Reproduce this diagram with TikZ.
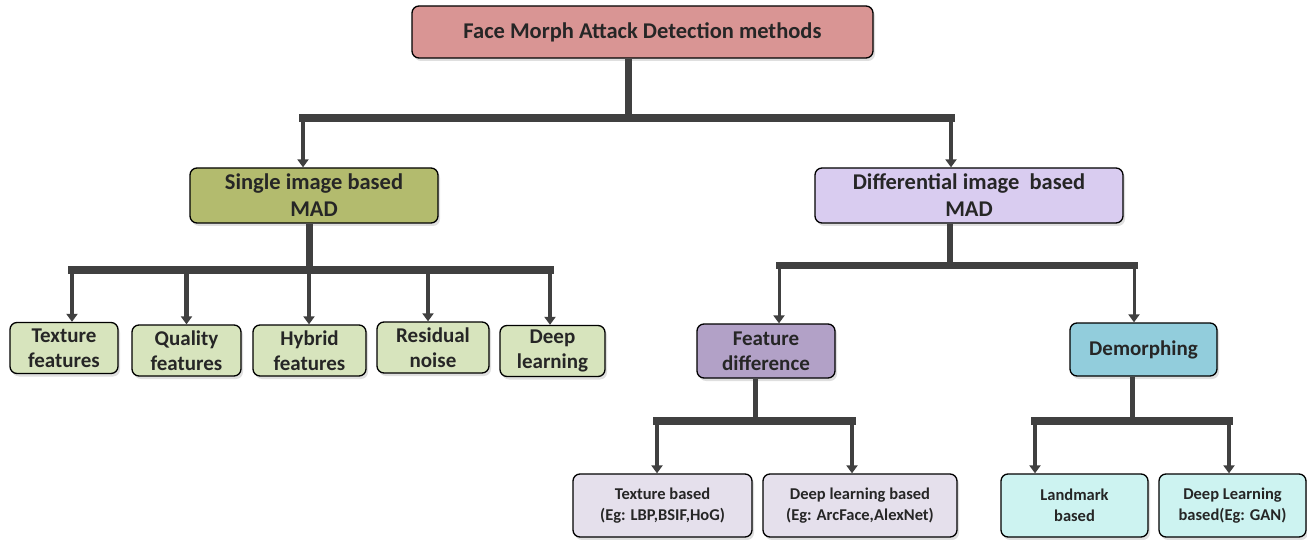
\documentclass[tikz,border=0pt]{standalone}
\usepackage{fontspec}
\setmainfont{Carlito}
\usetikzlibrary{shadows,arrows.meta}
\definecolor{linec}{HTML}{404040}
\definecolor{txt}{HTML}{262626}
\definecolor{ctop}{HTML}{D99594}
\definecolor{csingle}{HTML}{B3BB6E}
\definecolor{cdiff}{HTML}{D9CCF0}
\definecolor{cleaf}{HTML}{D7E4BD}
\definecolor{cfeat}{HTML}{B2A1C7}
\definecolor{cdemo}{HTML}{92CDDC}
\definecolor{cfsub}{HTML}{E5E0EC}
\definecolor{cdsub}{HTML}{CDF3F1}
\tikzset{
  box/.style={draw=black, line width=1.3pt, rounded corners=7pt, align=center,
    inner sep=1pt, text=txt, font=\bfseries,
    drop shadow={opacity=0.25, shadow xshift=2pt, shadow yshift=-3pt}},
  bus/.style={draw=linec, line width=#1, line cap=rect},
  arr/.style={draw=linec, line width=#1, -{Triangle[width=11pt,length=8pt]}},
}
\begin{document}
\begin{tikzpicture}[x=1pt,y=-1pt]
\useasboundingbox (0,0) rectangle (1307,540);
% nodes
\node[box, fill=ctop, minimum width=461, minimum height=52, font=\bfseries\fontsize{22.5}{27}\selectfont] (top) at (642.5,32) {Face Morph Attack Detection methods};
\node[box, fill=csingle, minimum width=248, minimum height=55, font=\bfseries\fontsize{22.5}{27}\selectfont] (single) at (314,195.5) {Single image based\\MAD};
\node[box, fill=cdiff, minimum width=308, minimum height=55, font=\bfseries\fontsize{22.5}{27}\selectfont] (diff) at (969,195.5) {Differential image\ \ based\\MAD};
\tikzset{leaf/.style={box, fill=cleaf, minimum height=51, font=\bfseries\fontsize{21}{25}\selectfont}}
\node[leaf, minimum width=108] (l1) at (64,348) {Texture\\features};
\node[leaf, minimum width=109] (l2) at (186.5,350.5) {Quality\\features};
\node[leaf, minimum width=113] (l3) at (309.5,350.5) {Hybrid\\features};
\node[leaf, minimum width=112] (l4) at (433,347.5) {Residual\\noise};
\node[leaf, minimum width=105] (l5) at (552.5,351) {Deep\\learning};
\node[box, fill=cfeat, minimum width=138, minimum height=54, font=\bfseries\fontsize{21}{25}\selectfont] (feat) at (766,351) {Feature\\difference};
\node[box, fill=cdemo, minimum width=147, minimum height=53, font=\bfseries\fontsize{21}{25}\selectfont] (demo) at (1143.5,349.5) {Demorphing};
\tikzset{sub/.style={box, minimum height=63, font=\bfseries\fontsize{16.5}{21}\selectfont}}
\node[sub, fill=cfsub, minimum width=179] (s1) at (662.5,505.5) {Texture based\\(Eg: LBP,BSIF,HoG)};
\node[sub, fill=cfsub, minimum width=194] (s2) at (860,505.5) {Deep learning based\\(Eg: ArcFace,AlexNet)};
\node[sub, fill=cdsub, minimum width=147] (s3) at (1074.5,505.5) {Landmark\\based};
\node[sub, fill=cdsub, minimum width=147] (s4) at (1232.5,505.5) {Deep Learning\\based(Eg: GAN)};
% coordinates
\coordinate (tb) at (628,118);
\coordinate (tbl) at (303,118);
\coordinate (tbr) at (951,118);
\coordinate (sb) at (309,270);
\coordinate (sbl) at (72,270);
\coordinate (sbr) at (550,270);
\coordinate (db) at (950,266);
\coordinate (dbl) at (779,266);
\coordinate (dbr) at (1134,266);
\coordinate (fb) at (755,421);
\coordinate (fbl) at (657,421);
\coordinate (fbr) at (852,421);
\coordinate (mb) at (1132,421);
\coordinate (mbl) at (1035,421);
\coordinate (mbr) at (1229,421);
% top level
\draw[bus=7pt, line cap=butt] (top.south -| tb) -- (tb);
\draw[bus=8pt] (tbl) -- (tbr);
\draw[arr=4pt] (tbl) -- (single.north -| tbl);
\draw[arr=4pt] (tbr) -- (diff.north -| tbr);
% single
\draw[bus=7pt, line cap=butt] (single.south -| sb) -- (sb);
\draw[bus=8pt] (sbl) -- (sbr);
\draw[arr=4.5pt] (sbl) -- (l1.north -| sbl);
\draw[arr=4.5pt] (sb -| l2) -- (l2.north);
\draw[arr=4.5pt] (sb) -- (l3.north -| sb);
\draw[arr=4.5pt] (sb -| 428,0) -- (l4.north -| 428,0);
\draw[arr=4.5pt] (sbr) -- (l5.north -| sbr);
% differential
\draw[bus=6pt, line cap=butt] (diff.south -| db) -- (db);
\draw[bus=7pt] (dbl) -- (dbr);
\draw[arr=3pt] (dbl) -- (feat.north -| dbl);
\draw[arr=3pt] (dbr) -- (demo.north -| dbr);
% feature
\draw[bus=5pt, line cap=butt] (feat.south -| fb) -- (fb);
\draw[bus=8pt] (fbl) -- (fbr);
\draw[arr=4pt] (fbl) -- (s1.north -| fbl);
\draw[arr=4pt] (fbr) -- (s2.north -| fbr);
% demorphing
\draw[bus=5pt, line cap=butt] (demo.south -| mb) -- (mb);
\draw[bus=8pt] (mbl) -- (mbr);
\draw[arr=4pt] (mbl) -- (s3.north -| mbl);
\draw[arr=4pt] (mbr) -- (s4.north -| mbr);
\end{tikzpicture}
\end{document}
